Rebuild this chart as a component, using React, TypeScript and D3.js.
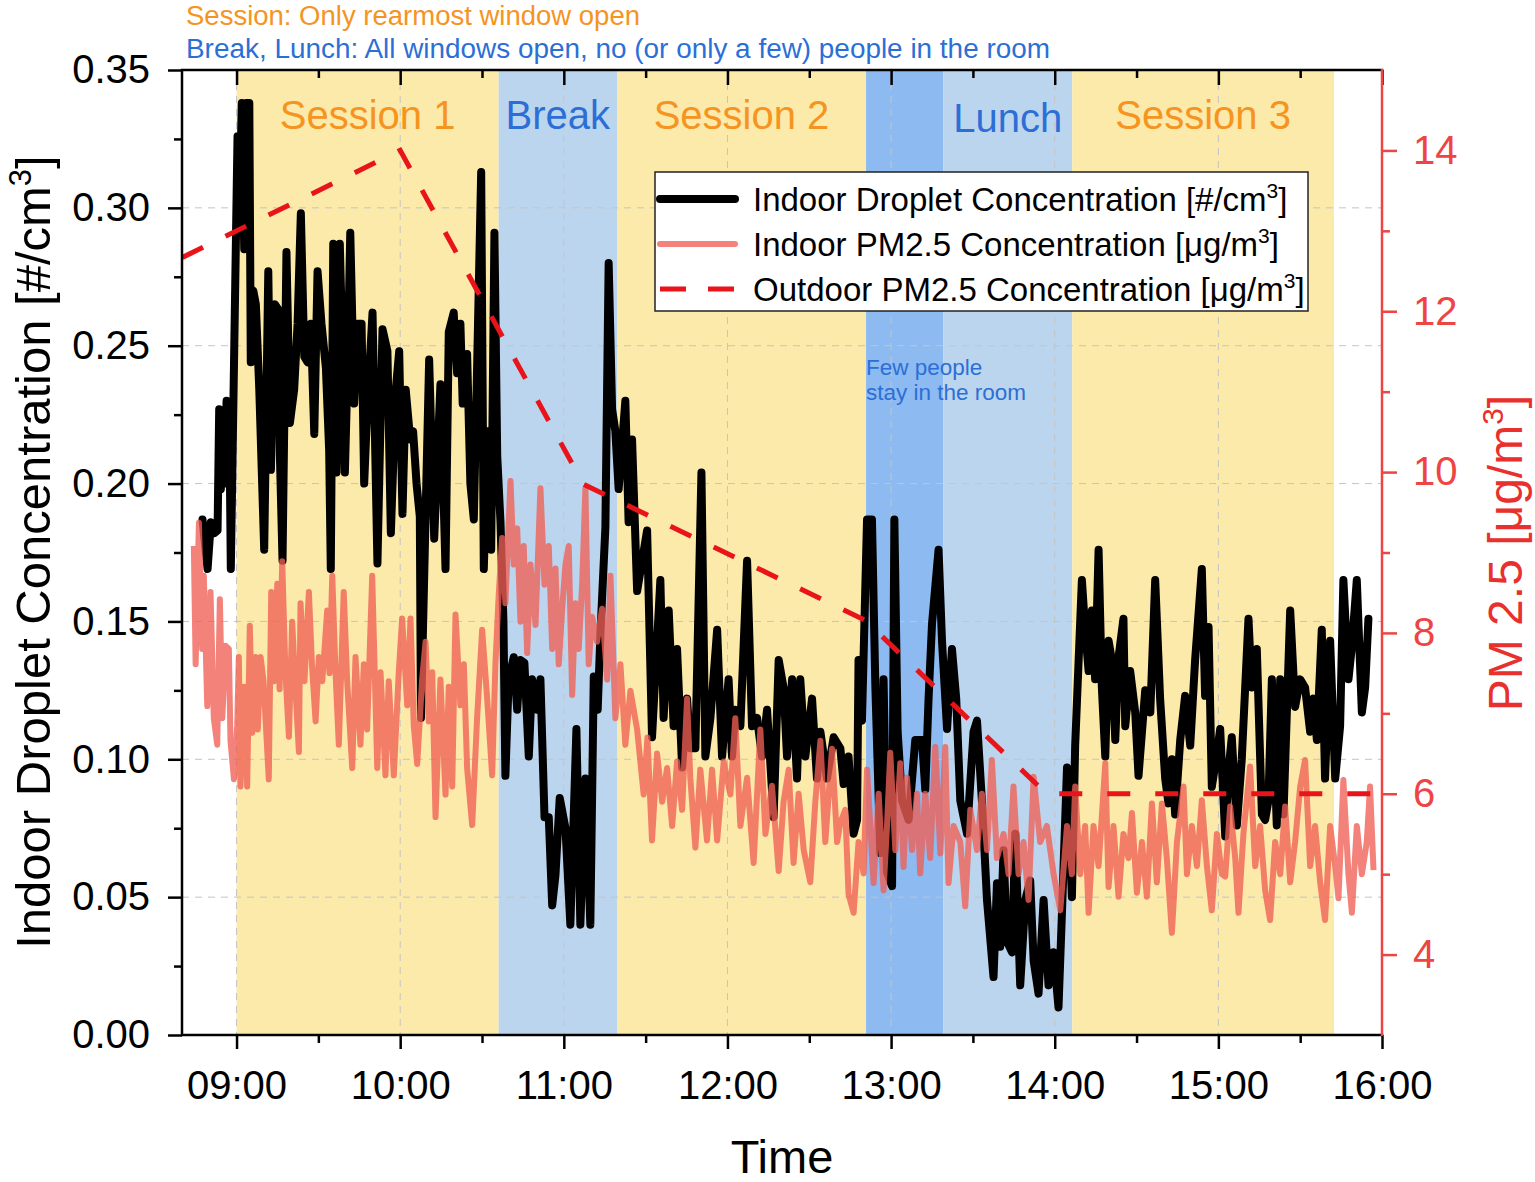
import React, { useEffect, useRef } from "react";
import * as d3 from "d3";

// time in decimal hours, droplet concentration in #/cm3
const droplet: [number, number][] = [
  [8.792, 0.187], [8.823, 0.169], [8.843, 0.186], [8.864, 0.182], [8.884, 0.183], [8.894, 0.227],
  [8.904, 0.198], [8.914, 0.222], [8.925, 0.2], [8.939, 0.23], [8.949, 0.215], [8.955, 0.229],
  [8.965, 0.169], [9.006, 0.326], [9.016, 0.294], [9.032, 0.338], [9.047, 0.285], [9.061, 0.338],
  [9.078, 0.338], [9.087, 0.244], [9.102, 0.27], [9.118, 0.265], [9.139, 0.234], [9.169, 0.176],
  [9.194, 0.277], [9.21, 0.205], [9.234, 0.265], [9.257, 0.263], [9.265, 0.21], [9.281, 0.172],
  [9.305, 0.284], [9.326, 0.222], [9.352, 0.234], [9.373, 0.258], [9.393, 0.298], [9.414, 0.246],
  [9.434, 0.244], [9.454, 0.258], [9.475, 0.218], [9.495, 0.277], [9.519, 0.258], [9.546, 0.242],
  [9.566, 0.212], [9.576, 0.169], [9.591, 0.287], [9.611, 0.204], [9.631, 0.287], [9.648, 0.247],
  [9.662, 0.204], [9.678, 0.24], [9.695, 0.291], [9.719, 0.229], [9.739, 0.258], [9.764, 0.258],
  [9.78, 0.2], [9.8, 0.229], [9.831, 0.262], [9.861, 0.171], [9.892, 0.256], [9.922, 0.248],
  [9.943, 0.182], [9.973, 0.234], [9.994, 0.248], [10.014, 0.189], [10.034, 0.234], [10.061, 0.216],
  [10.079, 0.219], [10.1, 0.2], [10.12, 0.188], [10.127, 0.115], [10.177, 0.245], [10.208, 0.18],
  [10.246, 0.236], [10.277, 0.169], [10.297, 0.255], [10.327, 0.262], [10.348, 0.24], [10.368, 0.258],
  [10.382, 0.229], [10.409, 0.247], [10.429, 0.2], [10.45, 0.187], [10.47, 0.242], [10.495, 0.313],
  [10.511, 0.169], [10.535, 0.219], [10.556, 0.176], [10.576, 0.291], [10.593, 0.21], [10.613, 0.186],
  [10.631, 0.15], [10.643, 0.094], [10.663, 0.129], [10.694, 0.137], [10.715, 0.118], [10.735, 0.136],
  [10.759, 0.135], [10.786, 0.101], [10.806, 0.129], [10.837, 0.118], [10.857, 0.129], [10.882, 0.079],
  [10.908, 0.079], [10.929, 0.047], [10.949, 0.058], [10.975, 0.086], [11.01, 0.075], [11.04, 0.04],
  [11.077, 0.111], [11.101, 0.04], [11.132, 0.093], [11.162, 0.04], [11.183, 0.13], [11.207, 0.118],
  [11.224, 0.146], [11.254, 0.184], [11.274, 0.28], [11.295, 0.227], [11.315, 0.219], [11.335, 0.198],
  [11.376, 0.23], [11.396, 0.186], [11.417, 0.216], [11.448, 0.161], [11.509, 0.183], [11.539, 0.108],
  [11.59, 0.165], [11.61, 0.115], [11.641, 0.154], [11.671, 0.112], [11.692, 0.14], [11.723, 0.097],
  [11.753, 0.122], [11.773, 0.104], [11.804, 0.104], [11.841, 0.204], [11.865, 0.101], [11.896, 0.115],
  [11.937, 0.147], [11.967, 0.101], [12.007, 0.129], [12.028, 0.101], [12.048, 0.118], [12.079, 0.112],
  [12.12, 0.172], [12.15, 0.112], [12.181, 0.115], [12.211, 0.101], [12.242, 0.118], [12.282, 0.079],
  [12.313, 0.136], [12.343, 0.126], [12.364, 0.101], [12.395, 0.129], [12.425, 0.093], [12.445, 0.129],
  [12.476, 0.101], [12.517, 0.122], [12.547, 0.093], [12.568, 0.11], [12.608, 0.093], [12.649, 0.108],
  [12.69, 0.104], [12.71, 0.091], [12.74, 0.101], [12.771, 0.073], [12.792, 0.078], [12.801, 0.136],
  [12.822, 0.114], [12.853, 0.187], [12.883, 0.187], [12.904, 0.126], [12.934, 0.066], [12.954, 0.129],
  [12.975, 0.059], [13.006, 0.054], [13.02, 0.187], [13.04, 0.11], [13.067, 0.085], [13.107, 0.078],
  [13.148, 0.107], [13.189, 0.107], [13.209, 0.089], [13.229, 0.122], [13.25, 0.149], [13.29, 0.176],
  [13.311, 0.143], [13.342, 0.111], [13.372, 0.14], [13.398, 0.122], [13.423, 0.085], [13.464, 0.073],
  [13.504, 0.11], [13.525, 0.114], [13.555, 0.085], [13.586, 0.049], [13.626, 0.021], [13.647, 0.055],
  [13.667, 0.032], [13.687, 0.067], [13.708, 0.034], [13.739, 0.03], [13.759, 0.073], [13.789, 0.018],
  [13.82, 0.049], [13.85, 0.056], [13.871, 0.027], [13.901, 0.015], [13.932, 0.049], [13.962, 0.018],
  [13.993, 0.03], [14.023, 0.01], [14.044, 0.044], [14.075, 0.097], [14.105, 0.05], [14.125, 0.105],
  [14.166, 0.165], [14.186, 0.147], [14.207, 0.132], [14.227, 0.154], [14.247, 0.129], [14.268, 0.176],
  [14.288, 0.126], [14.309, 0.101], [14.329, 0.143], [14.349, 0.136], [14.37, 0.107], [14.39, 0.137],
  [14.42, 0.151], [14.431, 0.112], [14.461, 0.132], [14.492, 0.117], [14.512, 0.094], [14.553, 0.125],
  [14.584, 0.117], [14.614, 0.165], [14.644, 0.122], [14.675, 0.093], [14.695, 0.084], [14.716, 0.1],
  [14.736, 0.08], [14.767, 0.107], [14.797, 0.123], [14.828, 0.105], [14.858, 0.136], [14.899, 0.169],
  [14.919, 0.123], [14.94, 0.148], [14.96, 0.09], [14.991, 0.102], [15.011, 0.111], [15.042, 0.072],
  [15.062, 0.096], [15.082, 0.108], [15.113, 0.076], [15.143, 0.1], [15.184, 0.151], [15.204, 0.126],
  [15.235, 0.14], [15.266, 0.08], [15.286, 0.078], [15.306, 0.085], [15.327, 0.129], [15.357, 0.076],
  [15.378, 0.129], [15.398, 0.08], [15.439, 0.154], [15.469, 0.119], [15.5, 0.129], [15.53, 0.126],
  [15.561, 0.11], [15.581, 0.122], [15.602, 0.107], [15.632, 0.147], [15.652, 0.093], [15.683, 0.143],
  [15.714, 0.093], [15.744, 0.112], [15.764, 0.165], [15.795, 0.129], [15.816, 0.141], [15.846, 0.165],
  [15.877, 0.117], [15.897, 0.126], [15.917, 0.151],
];

// time in decimal hours, indoor PM2.5 in µg/m3
const indoorPM: [number, number][] = [
  [8.739, 9.08], [8.75, 7.61], [8.77, 9.37], [8.79, 7.8], [8.8, 8.71], [8.821, 7.09], [8.841, 8.51],
  [8.861, 6.94], [8.882, 6.61], [8.898, 8.42], [8.913, 6.94], [8.933, 7.84], [8.953, 7.8], [8.963, 6.66],
  [8.984, 6.18], [9.004, 6.85], [9.014, 7.7], [9.024, 6.09], [9.045, 7.33], [9.065, 6.09], [9.081, 8.09],
  [9.096, 6.76], [9.116, 7.7], [9.13, 6.8], [9.147, 7.7], [9.165, 7.4], [9.197, 6.18], [9.212, 8.51],
  [9.229, 7.4], [9.249, 8.61], [9.263, 7.3], [9.279, 8.89], [9.299, 7.5], [9.32, 6.71], [9.34, 8.14],
  [9.36, 7.3], [9.381, 6.52], [9.391, 8.37], [9.415, 7.4], [9.442, 8.51], [9.461, 7.6], [9.483, 6.9],
  [9.503, 7.7], [9.524, 7.4], [9.554, 8.28], [9.568, 7.5], [9.585, 8.71], [9.605, 7.5], [9.625, 6.61],
  [9.655, 8.51], [9.676, 7.4], [9.707, 6.32], [9.727, 7.7], [9.757, 6.61], [9.778, 7.61], [9.798, 6.8],
  [9.829, 8.71], [9.86, 6.32], [9.88, 7.51], [9.91, 6.23], [9.93, 7.4], [9.961, 6.23], [9.991, 7.5],
  [10.012, 8.18], [10.043, 7.1], [10.063, 8.18], [10.083, 6.85], [10.104, 6.37], [10.134, 7.42],
  [10.155, 7.89], [10.175, 6.9], [10.196, 7.51], [10.216, 5.71], [10.246, 7.42], [10.277, 5.99],
  [10.297, 7.33], [10.318, 6.09], [10.338, 8.23], [10.368, 7.1], [10.389, 7.61], [10.409, 6.32],
  [10.44, 5.61], [10.47, 6.94], [10.501, 8.04], [10.531, 7.2], [10.562, 6.23], [10.582, 7.61],
  [10.602, 8.47], [10.623, 9.18], [10.643, 8.37], [10.674, 9.89], [10.694, 8.85], [10.715, 9.3],
  [10.735, 8.14], [10.755, 9.08], [10.776, 7.75], [10.796, 8.85], [10.827, 8.1], [10.857, 9.8],
  [10.882, 8.6], [10.908, 9.08], [10.929, 7.8], [10.949, 8.8], [10.969, 7.61], [10.99, 8.3],
  [11.01, 8.85], [11.03, 9.08], [11.051, 7.23], [11.071, 8.37], [11.091, 7.8], [11.112, 8.6],
  [11.132, 9.8], [11.152, 7.61], [11.173, 8.2], [11.203, 7.89], [11.234, 8.3], [11.265, 7.42],
  [11.285, 8.71], [11.315, 6.94], [11.346, 7.61], [11.376, 6.61], [11.407, 7.28], [11.448, 6.8],
  [11.488, 5.99], [11.511, 6.7], [11.539, 5.42], [11.57, 6.5], [11.601, 5.9], [11.631, 6.32],
  [11.662, 5.6], [11.692, 6.4], [11.723, 5.8], [11.753, 7.18], [11.773, 6.2], [11.804, 5.33],
  [11.834, 6.3], [11.875, 5.42], [11.906, 6.3], [11.937, 5.42], [11.977, 6.4], [12.018, 5.99],
  [12.048, 6.94], [12.079, 5.6], [12.12, 6.2], [12.16, 5.14], [12.201, 6.8], [12.232, 5.5],
  [12.272, 6.1], [12.313, 5.04], [12.343, 5.9], [12.374, 6.3], [12.404, 5.14], [12.435, 6.0],
  [12.466, 5.3], [12.506, 4.9], [12.537, 5.9], [12.568, 6.66], [12.598, 5.4], [12.639, 6.56],
  [12.67, 5.4], [12.69, 5.64], [12.72, 5.8], [12.74, 4.75], [12.771, 4.52], [12.801, 5.4],
  [12.832, 5.01], [12.853, 6.3], [12.873, 5.6], [12.893, 4.89], [12.924, 6.0], [12.954, 4.8],
  [12.975, 5.6], [12.995, 6.51], [13.026, 5.3], [13.056, 6.38], [13.076, 5.09], [13.097, 6.2],
  [13.128, 5.3], [13.158, 6.0], [13.178, 5.01], [13.209, 6.0], [13.239, 5.2], [13.27, 6.58],
  [13.301, 5.26], [13.331, 6.58], [13.351, 4.89], [13.382, 5.6], [13.423, 5.4], [13.453, 4.6],
  [13.484, 5.8], [13.525, 5.3], [13.555, 6.0], [13.586, 5.3], [13.616, 6.42], [13.647, 5.2],
  [13.687, 5.5], [13.718, 5.0], [13.748, 6.09], [13.779, 5.0], [13.809, 5.4], [13.84, 4.68],
  [13.871, 6.21], [13.911, 5.4], [13.952, 5.6], [13.993, 5.0], [14.034, 4.55], [14.075, 5.6],
  [14.105, 5.0], [14.125, 6.09], [14.156, 5.0], [14.186, 5.6], [14.207, 4.52], [14.237, 5.6],
  [14.268, 5.1], [14.309, 6.38], [14.329, 4.84], [14.359, 5.6], [14.39, 4.72], [14.42, 5.5],
  [14.451, 5.2], [14.472, 5.76], [14.502, 4.77], [14.533, 5.4], [14.563, 4.72], [14.594, 5.88],
  [14.624, 4.9], [14.655, 5.88], [14.685, 5.2], [14.716, 4.27], [14.747, 5.4], [14.787, 6.09],
  [14.808, 5.0], [14.838, 5.6], [14.869, 5.1], [14.899, 5.92], [14.93, 5.1], [14.96, 4.55],
  [14.991, 5.5], [15.021, 5.0], [15.042, 4.97], [15.072, 5.84], [15.103, 5.2], [15.123, 4.52],
  [15.153, 5.5], [15.194, 6.34], [15.225, 5.1], [15.255, 5.6], [15.286, 4.8], [15.316, 4.43],
  [15.347, 5.4], [15.378, 5.0], [15.408, 5.84], [15.439, 4.9], [15.469, 5.4], [15.5, 6.09],
  [15.53, 6.42], [15.561, 5.1], [15.591, 5.6], [15.622, 4.9], [15.652, 4.43], [15.683, 5.6],
  [15.714, 5.1], [15.734, 4.7], [15.764, 6.17], [15.795, 5.0], [15.816, 4.52], [15.846, 5.6],
  [15.877, 5.0], [15.907, 5.4], [15.927, 6.09], [15.948, 5.05],
];

// outdoor PM2.5, µg/m3
const outdoorPM: [number, number][] = [
  [8.0, 12.0], [10.0, 14.0], [11.12, 9.85], [12.84, 8.16], [13.95, 6.0], [16.0, 6.0],
];

const periods = [
  { label: "Session 1", start: 9.0, end: 10.602, kind: "session" },
  { label: "Break", start: 10.602, end: 11.325, kind: "break" },
  { label: "Session 2", start: 11.325, end: 12.847, kind: "session" },
  { label: "", start: 12.847, end: 13.318, kind: "few" },
  { label: "Lunch", start: 13.318, end: 14.107, kind: "break" },
  { label: "Session 3", start: 14.107, end: 15.707, kind: "session" },
];

const hourTicks = [9, 10, 11, 12, 13, 14, 15, 16];
const halfHourTicks = [9.5, 10.5, 11.5, 12.5, 13.5, 14.5, 15.5];
const dropletTicks = [0, 0.05, 0.1, 0.15, 0.2, 0.25, 0.3, 0.35];
const dropletMinor = [0.025, 0.075, 0.125, 0.175, 0.225, 0.275, 0.325];
const pmTicks = [4, 6, 8, 10, 12, 14];
const pmMinor = [5, 7, 9, 11, 13];

const notes = [
  "Session: Only rearmost window open",
  "Break, Lunch: All windows open, no (or only a few) people in the room",
];

const FONT = "'Liberation Sans', Arial, Helvetica, sans-serif";
const ORANGE = "#F5941F";
const BLUE = "#2B6FD6";
const RED_AXIS = "#EE4444";
const fills: Record<string, string> = { session: "#FCEAAB", break: "#BCD5EE", few: "#8DBAF1" };

function App() {
  const ref = useRef<SVGSVGElement>(null);

  useEffect(() => {
    drawChart();
  }, []);

  function drawChart() {
    const svg = d3.select(ref.current).html("");
    const left = 182, right = 1382, top = 70, bottom = 1035;

    const x = d3.scaleLinear().domain([8 + 40 / 60, 16]).range([left, right]);
    const yL = d3.scaleLinear().domain([0, 0.35]).range([bottom, top]);
    const yR = d3.scaleLinear().domain([3, 15]).range([bottom, top]);

    svg.append("rect").attr("width", 1535).attr("height", 1182).attr("fill", "#fff");

    svg.append("defs").append("clipPath").attr("id", "plot-clip")
      .append("rect").attr("x", left).attr("y", top).attr("width", right - left).attr("height", bottom - top);

    // shaded periods
    svg.append("g").selectAll("rect").data(periods).join("rect")
      .attr("x", d => x(d.start))
      .attr("y", top)
      .attr("width", d => x(d.end) - x(d.start))
      .attr("height", bottom - top)
      .attr("fill", d => fills[d.kind]);

    // grid
    const grid = svg.append("g").attr("stroke", "#C4C4C4").attr("stroke-width", 1).attr("stroke-dasharray", "7,6");
    grid.selectAll("line.h").data(dropletTicks.slice(1, -1)).join("line")
      .attr("x1", left).attr("x2", right).attr("y1", d => yL(d)).attr("y2", d => yL(d));
    grid.selectAll("line.v").data(hourTicks.slice(0, -1)).join("line")
      .attr("y1", top).attr("y2", bottom).attr("x1", d => x(d)).attr("x2", d => x(d));

    // period labels
    svg.append("g").selectAll("text").data(periods.filter(d => d.label)).join("text")
      .attr("x", d => (x(d.start) + x(d.end)) / 2)
      .attr("y", d => d.label == "Lunch" ? 132 : 129)
      .attr("text-anchor", "middle")
      .attr("font-family", FONT)
      .attr("font-size", 40)
      .attr("fill", d => d.kind == "session" ? ORANGE : BLUE)
      .text(d => d.label);

    const few = svg.append("text").attr("font-family", FONT).attr("font-size", 22.5).attr("fill", BLUE);
    few.append("tspan").attr("x", 866).attr("y", 375).text("Few people");
    few.append("tspan").attr("x", 866).attr("y", 400).text("stay in the room");

    const plot = svg.append("g").attr("clip-path", "url(#plot-clip)");

    const dropLine = d3.line<[number, number]>().x(d => x(d[0])).y(d => yL(d[1]));
    const pmLine = d3.line<[number, number]>().x(d => x(d[0])).y(d => yR(d[1]));

    plot.append("path").datum(droplet)
      .attr("d", dropLine)
      .attr("fill", "none").attr("stroke", "#000").attr("stroke-width", 8)
      .attr("stroke-linejoin", "round").attr("stroke-linecap", "round");

    plot.append("path").datum(indoorPM)
      .attr("d", pmLine)
      .attr("fill", "none").attr("stroke", "rgb(240,95,85)").attr("stroke-opacity", 0.78)
      .attr("stroke-width", 6).attr("stroke-linejoin", "round");

    plot.append("path").datum(outdoorPM)
      .attr("d", pmLine)
      .attr("fill", "none").attr("stroke", "#E8141A").attr("stroke-width", 5)
      .attr("stroke-dasharray", "23,25").attr("stroke-dashoffset", 22);

    // axes
    const styleAxis = (g: any, color: string) => {
      g.select(".domain").remove();
      g.selectAll("line").attr("stroke", color).attr("stroke-width", 2.5);
      g.selectAll("text").attr("font-family", FONT).attr("font-size", 40).attr("fill", color);
    };

    svg.append("g").attr("transform", `translate(${left},0)`)
      .call(d3.axisLeft(yL).tickValues(dropletTicks).tickSize(14).tickPadding(18).tickFormat(d3.format(".2f")))
      .call(g => styleAxis(g, "#000"));
    svg.append("g").attr("transform", `translate(${left},0)`)
      .call(d3.axisLeft(yL).tickValues(dropletMinor).tickSize(8).tickFormat(() => ""))
      .call(g => styleAxis(g, "#000"));

    svg.append("g").attr("transform", `translate(0,${bottom})`)
      .call(d3.axisBottom(x).tickValues(hourTicks).tickSize(14).tickPadding(22)
        .tickFormat(d => String(d).padStart(2, "0") + ":00"))
      .call(g => styleAxis(g, "#000"));
    svg.append("g").attr("transform", `translate(0,${bottom})`)
      .call(d3.axisBottom(x).tickValues(halfHourTicks).tickSize(8).tickFormat(() => ""))
      .call(g => styleAxis(g, "#000"));

    svg.append("g").attr("transform", `translate(0,${top})`)
      .call(d3.axisTop(x).tickValues(hourTicks).tickSize(-15).tickFormat(() => ""))
      .call(g => styleAxis(g, "#000"));
    svg.append("g").attr("transform", `translate(0,${top})`)
      .call(d3.axisTop(x).tickValues(halfHourTicks).tickSize(-8).tickFormat(() => ""))
      .call(g => styleAxis(g, "#000"));

    svg.append("g").attr("transform", `translate(${right},0)`)
      .call(d3.axisRight(yR).tickValues(pmTicks).tickSize(15).tickPadding(16))
      .call(g => styleAxis(g, RED_AXIS));
    svg.append("g").attr("transform", `translate(${right},0)`)
      .call(d3.axisRight(yR).tickValues(pmMinor).tickSize(8).tickFormat(() => ""))
      .call(g => styleAxis(g, RED_AXIS));

    // frame
    svg.append("path").attr("d", `M${left},${top}H${right}M${left},${top}V${bottom}H${right}`)
      .attr("fill", "none").attr("stroke", "#000").attr("stroke-width", 2.5).attr("stroke-linecap", "square");
    svg.append("line").attr("x1", right).attr("x2", right).attr("y1", top - 1).attr("y2", bottom + 1)
      .attr("stroke", RED_AXIS).attr("stroke-width", 2.5);

    // axis titles
    svg.append("text").attr("x", (left + right) / 2).attr("y", 1173)
      .attr("text-anchor", "middle").attr("font-family", FONT).attr("font-size", 47).text("Time");

    const lt = svg.append("text").attr("transform", "translate(50,552) rotate(-90)")
      .attr("text-anchor", "middle").attr("font-family", FONT).attr("font-size", 49);
    lt.append("tspan").text("Indoor Droplet Concentration [#/cm");
    lt.append("tspan").attr("font-size", 31).attr("dy", -19).text("3");
    lt.append("tspan").attr("dy", 19).text("]");

    const rt = svg.append("text").attr("transform", "translate(1522,553) rotate(-90)")
      .attr("text-anchor", "middle").attr("font-family", FONT).attr("font-size", 48).attr("fill", "#E8302E");
    rt.append("tspan").text("PM 2.5 [\u03bcg/m");
    rt.append("tspan").attr("font-size", 30).attr("dy", -19).text("3");
    rt.append("tspan").attr("dy", 19).text("]");

    // notes at the top
    svg.append("text").attr("x", 186).attr("y", 25).attr("font-family", FONT).attr("font-size", 27)
      .attr("fill", ORANGE).attr("textLength", 454).attr("lengthAdjust", "spacingAndGlyphs").text(notes[0]);
    svg.append("text").attr("x", 186).attr("y", 58).attr("font-family", FONT).attr("font-size", 27)
      .attr("fill", BLUE).attr("textLength", 864).attr("lengthAdjust", "spacingAndGlyphs").text(notes[1]);

    // legend
    const legend = svg.append("g");
    legend.append("rect").attr("x", 655).attr("y", 172).attr("width", 653).attr("height", 139)
      .attr("fill", "#fff").attr("stroke", "#222").attr("stroke-width", 1.5);
    const items = [
      { name: "Indoor Droplet Concentration [#/cm", color: "#000", width: 8, dash: null, opacity: 1 },
      { name: "Indoor PM2.5 Concentration [\u03bcg/m", color: "rgb(240,95,85)", width: 6, dash: null, opacity: 0.78 },
      { name: "Outdoor PM2.5 Concentration [\u03bcg/m", color: "#E8141A", width: 5, dash: "26,22", opacity: 1 },
    ];
    items.forEach(function (d, i) {
      const cy = 199 + i * 45;
      legend.append("line").attr("x1", 660).attr("x2", 735).attr("y1", cy).attr("y2", cy)
        .attr("stroke", d.color).attr("stroke-width", d.width).attr("stroke-opacity", d.opacity)
        .attr("stroke-linecap", d.dash ? "butt" : "round").attr("stroke-dasharray", d.dash);
      const t = legend.append("text").attr("x", 753).attr("y", cy + 12)
        .attr("font-family", FONT).attr("font-size", 33);
      t.append("tspan").text(d.name);
      t.append("tspan").attr("font-size", 21).attr("dy", -13).text("3");
      t.append("tspan").attr("dy", 13).text("]");
    });
  }

  return (
    <div style={{ position: "absolute", left: 0, top: 0 }}>
      <svg ref={ref} width={1535} height={1182} style={{ display: "block" }}></svg>
    </div>
  );
}

export default App;
